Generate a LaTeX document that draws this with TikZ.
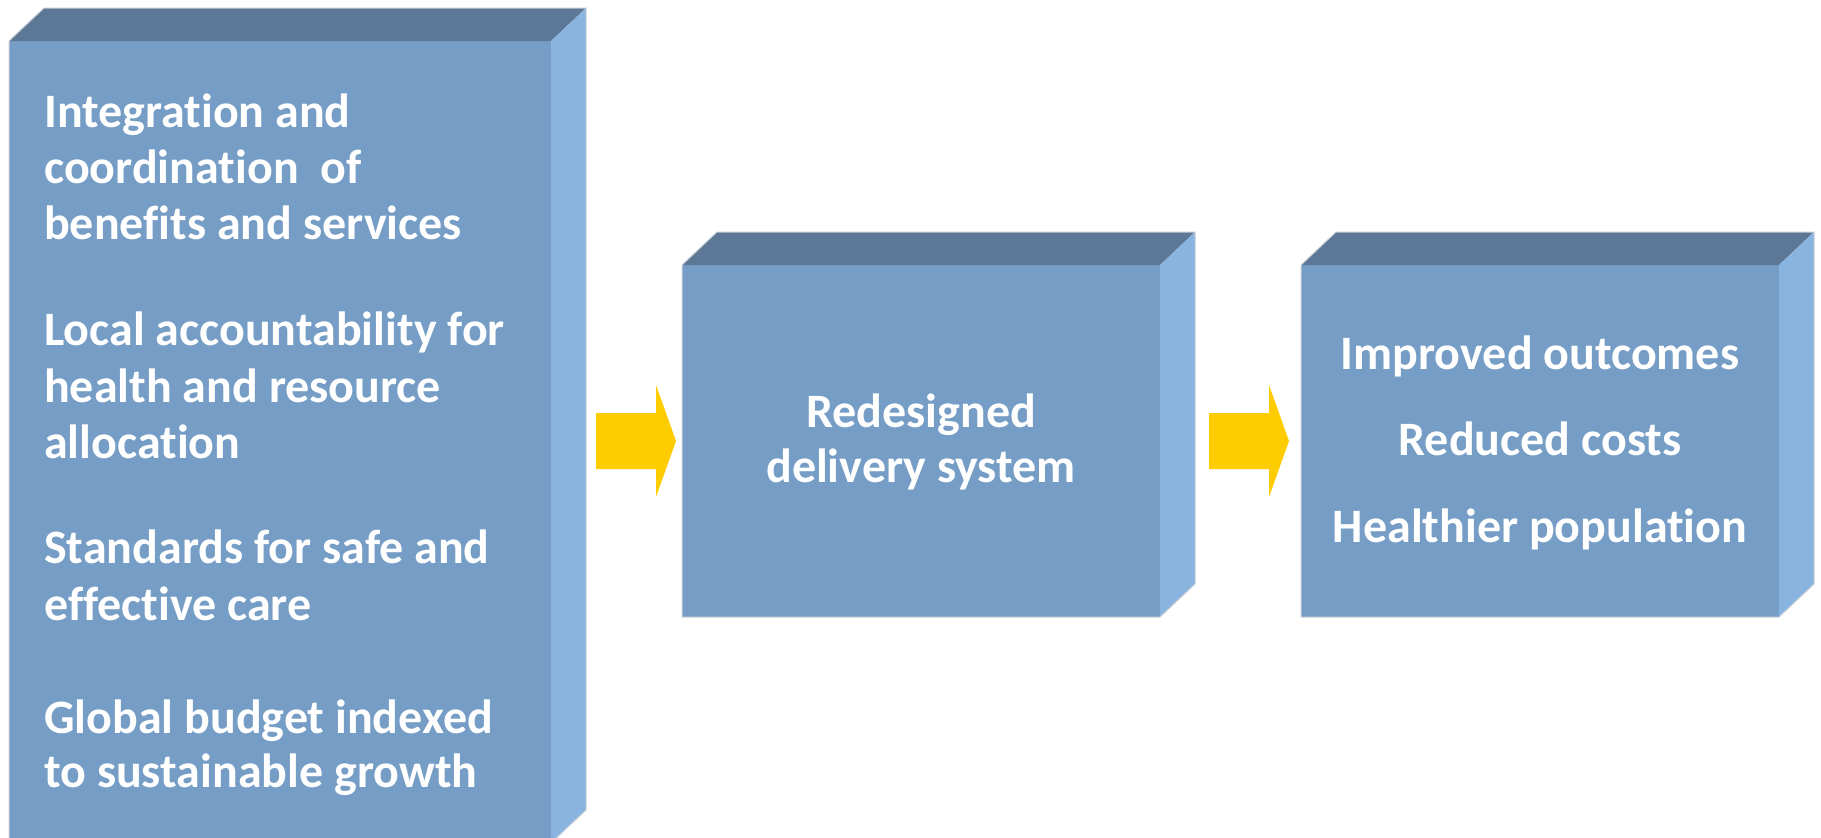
\documentclass[tikz,border=0pt]{standalone}
\usepackage{fontspec}
\setmainfont{Carlito}[Ligatures={NoCommon,NoContextual}]
\definecolor{frontc}{RGB}{117,157,197}
\definecolor{topc}{RGB}{92,120,150}
\definecolor{sidec}{RGB}{138,180,224}
\definecolor{edgec}{RGB}{200,206,214}
\definecolor{arrowc}{RGB}{255,204,0}
\begin{document}
\begin{tikzpicture}[x=1pt,y=-1pt,
  frontface/.style={rectangle, fill=frontc, draw=none, inner sep=0pt, outer sep=0pt},
  topface/.style={fill=topc},
  sideface/.style={fill=sidec},
  rim/.style={draw=edgec, line width=1pt},
  txt/.style={text=white, font=\fontsize{48}{56}\selectfont\bfseries, inner sep=0pt},
  blockarrow/.style={fill=arrowc}]
\useasboundingbox (0,0) rectangle (1821,838);
\fill[white] (0,0) rectangle (1821,838);

% front faces
\node[frontface, minimum width=542pt, minimum height=802pt] (b1) at (280,442) {};
\node[frontface, minimum width=478pt, minimum height=352pt] (b2) at (921,441) {};
\node[frontface, minimum width=478pt, minimum height=352pt] (b3) at (1540,441) {};

% top and side faces
\foreach \b in {b1,b2,b3}{
  \fill[topface] (\b.north west) -- ([shift={(35,-33)}]\b.north west)
     -- ([shift={(35,-33)}]\b.north east) -- (\b.north east) -- cycle;
  \fill[sideface] (\b.north east) -- ([shift={(35,-33)}]\b.north east)
     -- ([shift={(35,-33)}]\b.south east) -- (\b.south east) -- cycle;
  \draw[rim] (\b.south west) -- (\b.north west) -- ([shift={(35,-33)}]\b.north west)
     -- ([shift={(35,-33)}]\b.north east) -- ([shift={(35,-33)}]\b.south east)
     -- (\b.south east) -- cycle;
}

% block arrows
\fill[blockarrow] (596,413) -- (656,413) -- (656,385) -- (676,441) -- (656,497) -- (656,469) -- (596,469) -- cycle;
\fill[blockarrow] (1209,413) -- (1269,413) -- (1269,385) -- (1289,441) -- (1269,497) -- (1269,469) -- (1209,469) -- cycle;

% texts box 1
\node[txt, anchor=base west] (t1) at (44,127) {Integration and};
\node[txt, anchor=base west] (t2) at (44,183) {coordination~ of};
\node[txt, anchor=base west] (t3) at (44,239) {benefits and services};
\node[txt, anchor=base west] (t4) at (44,345) {Local accountability for};
\node[txt, anchor=base west] (t5) at (44,402) {health and resource};
\node[txt, anchor=base west] (t6) at (44,458) {allocation};
\node[txt, anchor=base west] (t7) at (44,563) {Standards for safe and};
\node[txt, anchor=base west] (t8) at (44,620) {effective care};
\node[txt, anchor=base west] (t9) at (44,733) {Global budget indexed};
\node[txt, anchor=base west] (t10) at (44,787) {to sustainable growth};

% texts box 2
\node[txt, anchor=base] (r1) at (921,427) {Redesigned};
\node[txt, anchor=base] (r2) at (921,482) {delivery system};

% texts box 3
\node[txt, anchor=base] (o1) at (1540,369) {Improved outcomes};
\node[txt, anchor=base] (o2) at (1540,455) {Reduced costs};
\node[txt, anchor=base] (o3) at (1540,542) {Healthier population};
\end{tikzpicture}
\end{document}
